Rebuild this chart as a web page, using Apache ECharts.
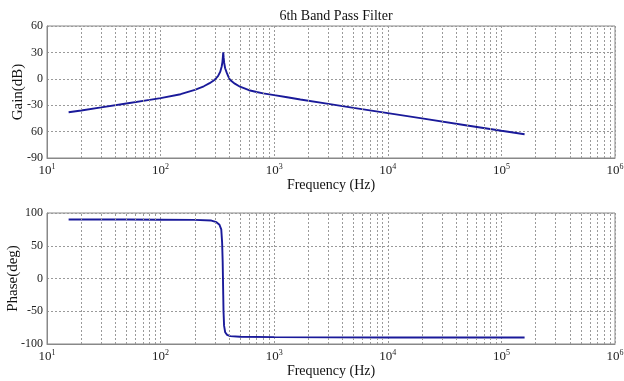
<!DOCTYPE html>
<html>
<head>
<meta charset="utf-8">
<script src="https://cdn.jsdelivr.net/npm/echarts@6/dist/echarts.min.js"></script>
<style>
  body { margin: 0; padding: 0; background: #fff; }
  #chart { width: 624px; height: 381px; }
</style>
</head>
<body>
<div id="chart"></div>
<script>
  // values
  const gainFreq = [15.5, 20, 30, 50, 80, 100, 150, 200, 240, 270, 300, 320, 335, 345, 350, 353, 356, 359, 363, 370, 382, 395, 410, 450, 500, 600, 700, 800, 1000, 1300, 1700, 3000, 5000, 10000, 20000, 50000, 100000, 160000];
  const gainDb = [-38, -36, -32.5, -28, -24, -22, -17.5, -12.5, -8.5, -5, -1, 3, 8, 14, 19, 24, 30, 24, 18, 12, 7, 2.5, -1.5, -5.5, -9, -13, -15, -16.5, -18.6, -21, -23.5, -28.5, -33, -39, -45, -53, -59, -63];
  const phaseFreq = [15.5, 50, 100, 200, 280, 310, 330, 342, 348, 352, 354, 356, 358, 362, 370, 385, 410, 500, 1000, 10000, 100000, 160000];
  const phaseDeg = [90, 90, 89.8, 89.5, 88.5, 86, 82, 75, 55, 25, 0, -25, -50, -72, -82, -86, -88, -89, -89.5, -90, -90, -90];
  const gainTicks = [-90, -60, -30, 0, 30, 60];
  const gainTickText = ['-90', '60', '-30', '0', '30', '60'];

  // minor decade grid lines: 2..9 x 10^k
  const minorLines = [];
  for (let k = 1; k < 6; k++) {
    for (let m = 2; m <= 9; m++) minorLines.push({ xAxis: m * Math.pow(10, k) });
  }

  const serif = 'Liberation Serif';
  const gridColor = '#9a9a9a';
  const lineColor = '#1a1a9a';

  function xAxisFor(gridIndex, gap) {
    return {
      type: 'log', logBase: 10, min: 10, max: 1000000, gridIndex,
      name: 'Frequency (Hz)', nameLocation: 'middle', nameGap: gap,
      nameTextStyle: { fontFamily: serif, fontSize: 14, color: '#111' },
      axisLine: { show: true, onZero: false, lineStyle: { color: '#888' } },
      axisTick: { show: false },
      splitLine: { show: true, lineStyle: { color: gridColor, type: [2, 2], width: 1 } },
      axisLabel: {
        margin: 5,
        formatter: v => '{b|10}{s|' + Math.round(Math.log10(v)) + '}',
        rich: {
          b: { fontFamily: serif, fontSize: 13, color: '#222' },
          s: { fontFamily: serif, fontSize: 8, color: '#222', padding: [0, 0, 8, 0] }
        }
      }
    };
  }

  function yAxisFor(gridIndex, name, min, max, interval, fmt, gap) {
    return {
      type: 'value', gridIndex, min, max, interval,
      name, nameLocation: 'middle', nameGap: gap, nameMoveOverlap: false,
      nameTextStyle: { fontFamily: serif, fontSize: 15, color: '#111' },
      axisLine: { show: true, onZero: false, lineStyle: { color: '#888' } },
      axisTick: { show: false },
      splitLine: { show: true, lineStyle: { color: gridColor, type: [2, 2], width: 1 } },
      axisLabel: { fontFamily: serif, fontSize: 12, color: '#222', margin: 4, formatter: fmt }
    };
  }

  function minorMark() {
    return {
      silent: true, symbol: 'none', label: { show: false },
      lineStyle: { color: gridColor, type: [2, 2], width: 1 },
      data: minorLines
    };
  }

  const chart = echarts.init(document.getElementById('chart'), null, { renderer: 'canvas' });
  chart.setOption({
    animation: false,
    title: {
      text: '6th Band Pass Filter', left: 331, top: 4, textAlign: 'center',
      textStyle: { fontFamily: serif, fontSize: 14, fontWeight: 'normal', color: '#111' }
    },
    grid: [
      { left: 47, top: 26, width: 568, height: 132, show: true, borderColor: '#888', borderWidth: 1, containLabel: false, outerBoundsMode: 'none' },
      { left: 47, top: 213, width: 568, height: 131, show: true, borderColor: '#888', borderWidth: 1, containLabel: false, outerBoundsMode: 'none' }
    ],
    xAxis: [xAxisFor(0, 19), xAxisFor(1, 20)],
    yAxis: [
      yAxisFor(0, 'Gain(dB)', -90, 60, 30, v => gainTickText[gainTicks.indexOf(v)] ?? String(v), 21),
      yAxisFor(1, 'Phase(deg)', -100, 100, 50, v => String(v), 26)
    ],
    series: [
      {
        type: 'line', xAxisIndex: 0, yAxisIndex: 0, showSymbol: false, smooth: false,
        lineStyle: { color: lineColor, width: 1.9 },
        data: gainFreq.map((f, i) => [f, gainDb[i]]),
        markLine: minorMark()
      },
      {
        type: 'line', xAxisIndex: 1, yAxisIndex: 1, showSymbol: false, smooth: false,
        lineStyle: { color: lineColor, width: 1.9 },
        data: phaseFreq.map((f, i) => [f, phaseDeg[i]]),
        markLine: minorMark()
      }
    ]
  });
</script>
</body>
</html>
